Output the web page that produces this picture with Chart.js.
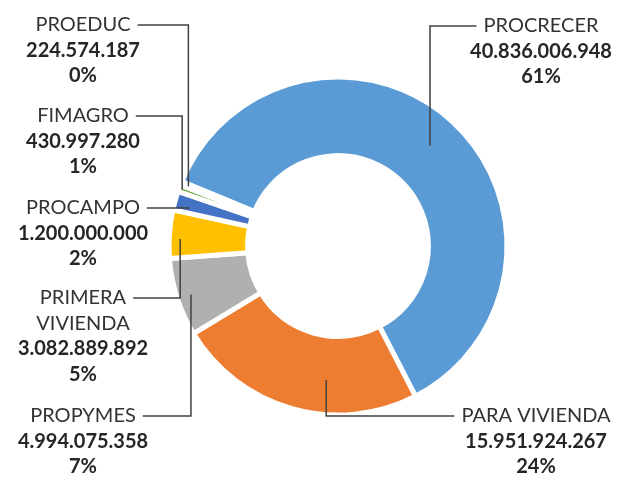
<!DOCTYPE html>
<html>
<head>
<meta charset="utf-8">
<script src="https://cdn.jsdelivr.net/npm/chart.js@4/dist/chart.umd.min.js"></script>
<style>
    html, body { margin: 0; padding: 0; background: #fff; }
    #wrap { width: 624px; height: 478px; position: relative; }
</style>
</head>
<body>
<div id="wrap"><canvas id="chart"></canvas></div>
<script>
// data
const categories = ['PROCRECER', 'PARA VIVIENDA', 'PROPYMES', 'PRIMERA\nVIVIENDA', 'PROCAMPO', 'FIMAGRO', 'PROEDUC'];
const amounts = [40836006948, 15951924267, 4994075358, 3082889892, 1200000000, 430997280, 224574187];
const sliceColors = ['#5B9BD5', '#ED7D31', '#AFB0B2', '#FFC000', '#4472C4', '#70AD47', '#255E91'];

// where each callout text sits (center x, first line y) and where its leader touches the slice
const callouts = [
    { x: 541, y: 26, side: 'right', frac: 0.5, rf: 0.58 },
    { x: 536, y: 416, side: 'right', frac: 0.375, rf: 0.56 },
    { x: 83, y: 416, side: 'left', frac: 0.48, rf: 0.82 },
    { x: 83, y: 298, side: 'left', frac: 0.41, rf: 0.86 },
    { x: 83, y: 208, side: 'left', frac: 0.3, rf: 0.8, straight: true },
    { x: 83, y: 116, side: 'left', frac: 0.5, rf: 0.96 },
    { x: 83, y: 25, side: 'left', frac: 0.5, rf: 0.9 }
];

const total = amounts.reduce((a, b) => a + b, 0);

function fmtAmount(v) {
    return String(v).replace(/\B(?=(\d{3})+(?!\d))/g, '.');
}

const calloutPlugin = {
    id: 'callouts',
    afterDatasetsDraw(chart) {
        const ctx = chart.ctx;
        const arcs = chart.getDatasetMeta(0).data;
        const lineH = 25.5;
        ctx.save();
        ctx.textAlign = 'center';
        ctx.textBaseline = 'middle';
        arcs.forEach((arc, i) => {
            const c = callouts[i];
            const p = arc.getProps(['x', 'y', 'startAngle', 'endAngle', 'innerRadius', 'outerRadius'], true);
            const ang = p.startAngle + c.frac * (p.endAngle - p.startAngle);
            const r = p.innerRadius + c.rf * (p.outerRadius - p.innerRadius);
            const ax = p.x + Math.cos(ang) * r;
            const ay = p.y + Math.sin(ang) * r;

            const nameLines = categories[i].split('\n');
            const lines = nameLines.map(t => ({ t: t, bold: false }));
            lines.push({ t: fmtAmount(amounts[i]), bold: true });
            lines.push({ t: Math.round(amounts[i] / total * 100) + '%', bold: true });

            lines.forEach((ln, k) => {
                ctx.font = (ln.bold ? 'bold ' : '') + '20px Lato';
                ctx.fillStyle = ln.bold ? '#262626' : '#333333';
                ctx.fillText(ln.t, c.x, c.y + k * lineH);
            });

            // leader line
            ctx.font = '20px Lato';
            const w = ctx.measureText(nameLines[0]).width;
            const sx = c.side === 'left' ? c.x + w / 2 + 7 : c.x - w / 2 - 7;
            const ly = c.straight ? ay : c.y;
            ctx.strokeStyle = '#404040';
            ctx.lineWidth = 1.5;
            ctx.beginPath();
            ctx.moveTo(sx, ly);
            ctx.lineTo(ax, ly);
            ctx.lineTo(ax, ay);
            ctx.stroke();
        });
        ctx.restore();
    }
};

new Chart(document.getElementById('chart'), {
    type: 'doughnut',
    data: {
        labels: categories,
        datasets: [{
            data: amounts,
            backgroundColor: sliceColors,
            borderColor: '#ffffff',
            borderWidth: 5,
            hoverOffset: 0
        }]
    },
    options: {
        responsive: true,
        maintainAspectRatio: false,
        animation: false,
        events: [],
        rotation: -67.6,
        radius: 169,
        cutout: '53.5%',
        layout: { padding: { left: 60, right: 8, top: 20, bottom: 6 } },
        plugins: {
            legend: { display: false },
            tooltip: { enabled: false }
        }
    },
    plugins: [calloutPlugin]
});
</script>
</body>
</html>
